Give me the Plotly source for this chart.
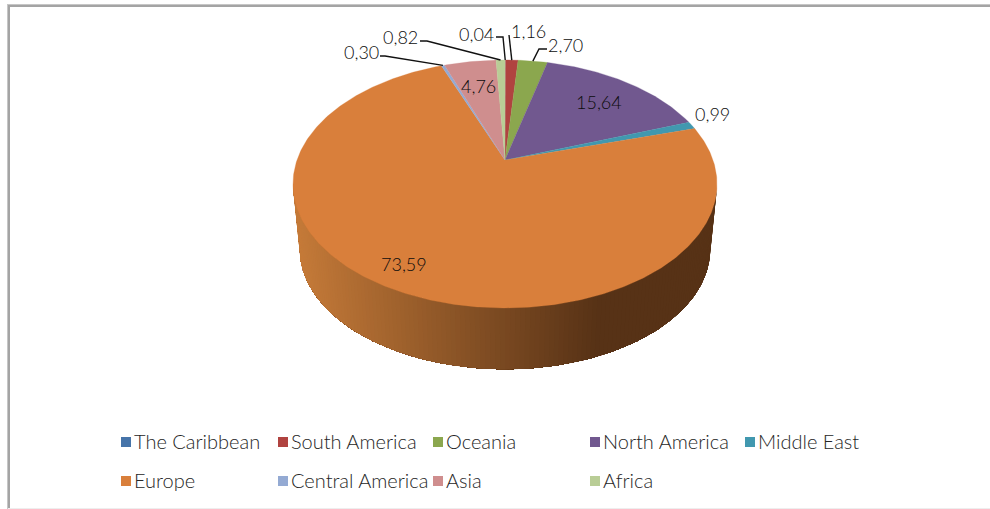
import numpy as np
import plotly.graph_objects as go

categories = ["The Caribbean", "South America", "Oceania", "North America", "Middle East",
              "Europe", "Central America", "Asia", "Africa"]
values = [0.04, 1.16, 2.70, 15.64, 0.99, 73.59, 0.30, 4.76, 0.82]
value_labels = ["0,04", "1,16", "2,70", "15,64", "0,99", "73,59", "0,30", "4,76", "0,82"]
colors = ["#4674a9", "#b04340", "#8ba74e", "#71588f", "#4198af", "#d97f3b", "#94aad3", "#cf8e8e", "#b9cd96"]

# projected-disc geometry (pixels of the 990x509 page)
CX, CY, RX, RY, PERSP = 505.0, 160.0, 208.0, 119.35, 0.1935
DROP, SHRINK = 66.0, 0.968
FONT = "Lato"
INK = "#0c0c0c"


def project(theta, dy=0.0, k=1.0):
    u, v = np.sin(theta), np.cos(theta)
    w = 1 + PERSP * v
    return CX + k * RX * u / w, CY + dy - k * RY * v / w


def mix(a, b, t):
    ca = [int(a[i:i + 2], 16) for i in (1, 3, 5)]
    cb = [int(b[i:i + 2], 16) for i in (1, 3, 5)]
    return "#%02x%02x%02x" % tuple(round(p + (q - p) * t) for p, q in zip(ca, cb))


total = sum(values)
edges = np.cumsum([0] + values) / total * 2 * np.pi
fig = go.Figure()

# Side wall: visible part of the rim, painted back to front so no seams show
t0 = np.arccos(-PERSP)
side = np.linspace(t0, 2 * np.pi - t0, 141)
for a in side[:-1]:
    th = side[side >= a]
    xt, yt = project(th)
    xb, yb = project(th, DROP, SHRINK)
    pos = np.clip((float(xt[0]) - 293) / (600 - 293), 0, 1)
    col = mix("#c67b39", "#573216", pos)
    fig.add_trace(go.Scatter(x=np.r_[xt, xb[::-1], xt[0]], y=np.r_[yt, yb[::-1], yt[0]], mode="lines",
                             fill="toself", fillcolor=col, line=dict(color=col, width=0),
                             hoverinfo="skip", showlegend=False))

# Top face wedges
for name, col, a, b in zip(categories, colors, edges[:-1], edges[1:]):
    th = np.linspace(a, b, max(3, int((b - a) * 90)))
    x, y = project(th)
    fig.add_trace(go.Scatter(x=np.r_[CX, x, CX], y=np.r_[CY, y, CY], mode="lines", fill="toself",
                             fillcolor=col, line=dict(color=col, width=0.3), name=name,
                             hoverinfo="name", showlegend=False))

# Leader lines: elbows from layout, last point on the rim at the wedge mid-angle
elbows = {
    "Central America": [(380, 56), (385, 56)],
    "Africa": [(420, 41), (427, 41)],
    "The Caribbean": [(496, 37), (503, 37)],
    "South America": [(509, 35)],
    "Oceania": [(547, 49), (539, 49)],
}
mids = {n: 0.5 * (a + b) for n, a, b in zip(categories, edges[:-1], edges[1:])}
for name, pts in elbows.items():
    rx, ry = project(mids[name])
    xs = [p[0] for p in pts] + [float(rx)]
    ys = [p[1] for p in pts] + [float(ry)]
    fig.add_trace(go.Scatter(x=xs, y=ys, mode="lines", line=dict(color="#111111", width=1.4),
                             hoverinfo="skip", showlegend=False))

# Data labels
label_pos = {
    "The Caribbean": (476, 34), "South America": (528, 31), "Oceania": (565, 45),
    "North America": (599, 102), "Middle East": (712, 114), "Europe": (404, 264),
    "Central America": (361, 52), "Asia": (478, 86), "Africa": (400, 37),
}
for name, txt in zip(categories, value_labels):
    px, py = label_pos[name]
    fig.add_annotation(x=px, y=py, text=txt, showarrow=False, xanchor="center", yanchor="middle",
                       font=dict(family=FONT, size=18, color=INK, weight=300))

# Legend
swatch_x = [120, 277, 432, 589, 744, 120, 277, 432, 589]
swatch_y = [442, 442, 442, 442, 442, 481, 481, 481, 481]
for name, col, sx, sy in zip(categories, colors, swatch_x, swatch_y):
    fig.add_trace(go.Scatter(x=[sx + 6], y=[sy], mode="markers", name=name,
                             marker=dict(symbol="square", size=10, color=col),
                             hoverinfo="name", showlegend=False))
    fig.add_annotation(x=sx + 12, y=sy - 1, text=name, showarrow=False, xanchor="left", yanchor="middle",
                       font=dict(family=FONT, size=20, color="#262626", weight=300))

shapes = [
    dict(type="line", x0=7, x1=990, y0=4.5, y1=4.5, line=dict(color="#c6c6c6", width=1)),
    dict(type="line", x0=7, x1=990, y0=6, y1=6, line=dict(color="#a4a4a4", width=2)),
    dict(type="line", x0=7.5, x1=7.5, y0=4, y1=509, line=dict(color="#c6c6c6", width=1)),
    dict(type="line", x0=9, x1=9, y0=6, y1=509, line=dict(color="#a4a4a4", width=2)),
    dict(type="line", x0=8, x1=990, y0=508.5, y1=508.5, line=dict(color="#eeeeee", width=1)),
]
fig.update_layout(
    width=990, height=509, margin=dict(l=0, r=0, t=0, b=0), paper_bgcolor="white", plot_bgcolor="white",
    xaxis=dict(range=[0, 990], visible=False, fixedrange=True),
    yaxis=dict(range=[509, 0], visible=False, fixedrange=True),
    shapes=shapes, showlegend=False,
)
fig.write_html("out.html", config={"displayModeBar": False},
               post_script="document.body.style.margin='0';document.body.style.overflow='hidden';")
